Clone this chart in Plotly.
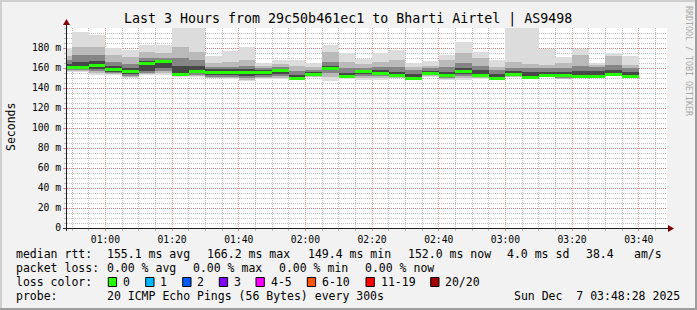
import plotly.graph_objects as go

# ---------------- data ----------------
day = "2025-12-07 "
times = ["00:50", "00:55", "01:00", "01:05", "01:10", "01:15", "01:20", "01:25", "01:30",
         "01:35", "01:40", "01:45", "01:50", "01:55", "02:00", "02:05", "02:10", "02:15",
         "02:20", "02:25", "02:30", "02:35", "02:40", "02:45", "02:50", "02:55", "03:00",
         "03:05", "03:10", "03:15", "03:20", "03:25", "03:30", "03:35", "03:40"]

median = [161.0, 161.0, 162.3, 158.3, 157.0, 164.3, 166.2, 154.0, 157.0, 155.7, 155.7, 155.7,
          155.7, 157.3, 149.4, 153.5, 160.0, 151.3, 156.3, 154.3, 152.3, 150.0, 154.7, 152.8,
          156.3, 152.3, 149.8, 153.8, 150.7, 152.2, 153.0, 151.3, 152.0, 153.5, 152.0]

smoke_hi1 = [180, 196, 193, 180, 178, 183, 183, 205, 205, 172, 177, 181, 165.3, 168, 168, 165.3,
             182.7, 175.3, 168.7, 174.7, 178, 165.3, 167.3, 173.3, 186.3, 176, 168, 205, 205,
             179.3, 171.3, 179.3, 165.3, 174.7, 172]
smoke_hi2 = [172, 181, 181, 173, 171, 176, 175, 181, 176, 165, 166, 168, 162, 164, 162, 161, 176,
             166, 164, 166, 168, 161, 162, 168, 175, 170, 161, 166, 164, 163, 165, 173, 163, 172, 163]
smoke_hi3 = [168, 173, 173, 166, 164, 170, 170, 170, 168, 161, 161, 162, 160, 161, 157, 158, 166,
             160, 160, 161, 161, 158, 160, 161, 165, 162, 158, 160, 160, 160, 160, 162, 161, 163, 160]
smoke_hi4 = [164, 166, 167, 162, 160, 167, 168, 162, 162, 159, 159, 159, 158, 159.5, 153, 156, 162,
             155, 158, 158, 156, 154, 157, 156, 160, 158, 154, 157, 156, 156, 156, 157, 157, 158, 156]
smoke_lo4 = [159, 159, 159, 156, 154, 157, 160, 153, 155, 153, 153, 152, 153, 154, 149, 152.5, 158,
             151, 154, 153, 151.5, 149.7, 153.5, 151.5, 154, 151.5, 149.6, 152.5, 150.5, 151.8,
             151.5, 151.1, 151.8, 153.3, 151.8]
smoke_lo3 = [158, 158, 157, 155, 152, 155, 157, 152.5, 153, 151, 151, 150, 151, 152, 148.9, 152, 155,
             150.8, 152, 152, 151, 149.4, 153, 150.5, 152, 151, 149.4, 152, 150.3, 151.5, 150.5,
             151, 151.6, 153.2, 151.5]
smoke_lo2 = [157, 157, 155, 154, 151, 154, 155, 152, 152, 150, 150, 148.5, 150, 150, 148.8, 151, 151,
             150.5, 150, 150, 150.5, 149, 152, 149, 150, 150, 149.2, 151.5, 150.1, 151.2, 149.5,
             150.8, 151.4, 153.1, 151.2]
smoke_lo1 = [156, 156, 153, 153, 150, 153, 153, 151.5, 150.7, 149.7, 149.5, 147, 148.7, 148.7, 148.7,
             150.7, 147.3, 149, 148, 148, 149.7, 148.7, 151.3, 148, 148, 148.7, 148.7, 150.7, 149.7,
             151, 148.7, 150.5, 151.3, 153, 151]

y_tickvals = [0, 20, 40, 60, 80, 100, 120, 140, 160, 180]
y_ticktext = ["0", "20 m", "40 m", "60 m", "80 m", "100 m", "120 m", "140 m", "160 m", "180 m"]

title = "Last 3 Hours from 29c50b461ec1 to Bharti Airtel | AS9498"
rtt_items = ["median rtt:", "155.1 ms avg", "166.2 ms max", "149.4 ms min", "152.0 ms now",
             "4.0 ms sd", "38.4", "am/s"]
loss_items = ["packet loss:", "0.00 % avg", "0.00 % max", "0.00 % min", "0.00 % now"]
loss_labels = ["0", "1", "2", "3", "4-5", "6-10", "11-19", "20/20"]
loss_colors = ["#26ff00", "#00b8ff", "#0059ff", "#7e00ff", "#ff00ff", "#ff5500", "#ff0000", "#a10000"]
probe_items = ["probe:", "20 ICMP Echo Pings (56 Bytes) every 300s"]
stamp = "Sun Dec  7 03:48:28 2025"

# ---------------- layout helpers ----------------
W, H = 697, 310
L, T, PW, PH = 67, 28, 600, 200
FONT = "DejaVu Sans Mono"


def X(px):
    return (px - L) / PW


def Y(py):
    return (T + PH - py) / PH


x = [day + t + ":00" for t in times]
fig = go.Figure()

layers = [(smoke_lo1, smoke_hi1, "#dcdcdc"), (smoke_lo2, smoke_hi2, "#bababa"),
          (smoke_lo3, smoke_hi3, "#858585"), (smoke_lo4, smoke_hi4, "#474747")]
for lo, hi, col in layers:
    fig.add_bar(x=x, y=[h - l for h, l in zip(hi, lo)], base=lo, width=300000, offset=-300000,
                marker=dict(color=col, line=dict(width=0)), hoverinfo="skip", showlegend=False)

fig.add_bar(x=x, y=[3] * len(x), base=[m - 1.5 for m in median], width=300000, offset=-300000,
            marker=dict(color=loss_colors[0], line=dict(width=0)), hoverinfo="skip", showlegend=False)

MGRID = "rgba(224,79,79,0.55)"
GRID = "rgba(128,128,128,0.5)"

fig.update_layout(
    width=W, height=H, margin=dict(l=L, r=W - L - PW, t=T, b=H - T - PH),
    paper_bgcolor="#f2f2f2", plot_bgcolor="#ffffff",
    barmode="overlay", bargap=0, showlegend=False,
    font=dict(family=FONT, color="#000000", size=10),
    xaxis=dict(type="date", range=[day + "00:48:28", day + "03:48:28"],
               tickmode="linear", tick0=day + "00:00:00", dtick=1200000, tickformat="%H:%M",
               showgrid=True, gridcolor=MGRID, griddash="1px,1px", gridwidth=1,
               ticks="outside", ticklen=2, tickcolor=MGRID, zeroline=False, showline=False,
               tickfont=dict(family=FONT, size=9.7),
               minor=dict(tick0=day + "00:00:00", dtick=300000, showgrid=True, gridcolor=GRID,
                          griddash="1px,1px", gridwidth=1, ticks="outside", ticklen=2,
                          tickcolor=GRID),
               fixedrange=True),
    yaxis=dict(range=[0, 200], tickmode="array", tickvals=y_tickvals, ticktext=y_ticktext,
               showgrid=True, gridcolor=MGRID, griddash="1px,1px", gridwidth=1,
               ticks="outside", ticklen=3, tickcolor=MGRID, zeroline=False, showline=False,
               tickfont=dict(family=FONT, size=9.7),
               minor=dict(tick0=0, dtick=5, showgrid=True, gridcolor=GRID, griddash="1px,1px",
                          gridwidth=1, ticks="outside", ticklen=2, tickcolor=GRID),
               fixedrange=True),
)

shapes = []
# 3D frame
shapes.append(dict(type="rect", xref="paper", yref="paper", x0=X(0), x1=X(W), y0=Y(0), y1=Y(2),
                   fillcolor="#cfcfcf", line_width=0, layer="below"))
shapes.append(dict(type="rect", xref="paper", yref="paper", x0=X(0), x1=X(2), y0=Y(0), y1=Y(H),
                   fillcolor="#cfcfcf", line_width=0, layer="below"))
shapes.append(dict(type="rect", xref="paper", yref="paper", x0=X(0), x1=X(W), y0=Y(H - 2), y1=Y(H),
                   fillcolor="#9e9e9e", line_width=0, layer="below"))
shapes.append(dict(type="rect", xref="paper", yref="paper", x0=X(W - 2), x1=X(W), y0=Y(0), y1=Y(H),
                   fillcolor="#9e9e9e", line_width=0, layer="below"))
# axes
shapes.append(dict(type="rect", xref="paper", yref="paper", x0=X(66), x1=X(67), y0=Y(24), y1=Y(231),
                   fillcolor="#212121", line_width=0))
shapes.append(dict(type="rect", xref="paper", yref="paper", x0=X(63), x1=X(670), y0=Y(228), y1=Y(229),
                   fillcolor="#212121", line_width=0))
shapes.append(dict(type="path", xref="paper", yref="paper",
                   path=f"M {X(63)},{Y(25)} L {X(70)},{Y(25)} L {X(66.5)},{Y(19)} Z",
                   fillcolor="#800000", line_width=0))
shapes.append(dict(type="path", xref="paper", yref="paper",
                   path=f"M {X(668)},{Y(225)} L {X(668)},{Y(232)} L {X(674)},{Y(228.5)} Z",
                   fillcolor="#800000", line_width=0))

annotations = []


def txt(s, px, py, size=11.5, anchor="left", color="#000000", angle=0):
    annotations.append(dict(text=s, x=X(px), y=Y(py), xref="paper", yref="paper", showarrow=False,
                            xanchor=anchor, yanchor="middle", borderpad=0, borderwidth=0,
                            textangle=angle, font=dict(family=FONT, size=size, color=color)))


txt(title, 348, 19, size=13.3, anchor="center")
txt("Seconds", 11, 127, size=11.5, anchor="center", angle=-90)
txt("RRDTOOL / TOBI OETIKER", 689, 61, size=8.3, anchor="center", color="#a8a8a8", angle=90)

rtt_x = [16, 107.3, 207.3, 308.3, 407.7, 506.7, 586, 634]
for s, px in zip(rtt_items, rtt_x):
    txt(s, px, 254)
loss_x = [16, 107.3, 193.3, 279.3, 365]
for s, px in zip(loss_items, loss_x):
    txt(s, px, 268)
txt("loss color:", 16, 282)
box_x = [108.3, 145.7, 182.7, 219.3, 256, 307.3, 366, 430.7]
for lab, col, bx in zip(loss_labels, loss_colors, box_x):
    shapes.append(dict(type="rect", xref="paper", yref="paper", x0=X(bx), x1=X(bx + 8.3),
                       y0=Y(277.5), y1=Y(286.5), fillcolor=col,
                       line=dict(color="#000000", width=1)))
    txt(lab, bx + 14.5, 282)
txt(probe_items[0], 16, 296)
txt(probe_items[1], 107.3, 296)
txt(stamp, 680, 296, anchor="right")

fig.update_layout(shapes=shapes, annotations=annotations)
fig.write_html("out.html")
